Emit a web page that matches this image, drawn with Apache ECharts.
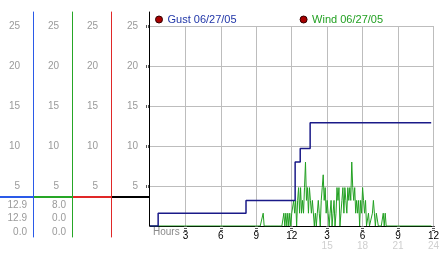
<!DOCTYPE html>
<html>
<head>
<meta charset="utf-8">
<script src="https://cdn.jsdelivr.net/npm/echarts@6/dist/echarts.min.js"></script>
<style>
html,body{margin:0;padding:0;background:#fff;}
#chart{width:442px;height:253px;}
</style>
</head>
<body>
<div id="chart"></div>
<script>
// ---- data ----
const hourTicks = [3, 6, 9, 12, 15, 18, 21, 24];
const speedTicks = [5, 10, 15, 20, 25];
const seriesNames = ['Gust 06/27/05', 'Wind 06/27/05'];

// gust: step line, value changes at given hour
const gustHours = [0, 0.69, 8.13, 12.29, 12.72, 13.56, 23.81];
const gustMph   = [0, 1.6, 3.2, 8.0, 9.7, 12.9, 12.9];

// wind: 5-minute samples starting 09:20
const windStartMinute = 560;
const windStepMinute = 5;
const windMph = [
  0,0,0,1.6,0,0,0,0,0,0,
  0,0,0,0,0,0,0,0,0,0,
  0,0,
  0,0,1.6,0,1.6,0,1.6,0,1.6,0,
  1.6,1.6,3.2,1.6,3.2,0,3.2,4.8,1.6,4.8,
  1.6,3.2,1.6,4.8,8.0,3.2,4.8,1.6,4.8,3.2,
  1.6,3.2,3.2,0,1.6,0,1.6,3.2,1.6,0,
  3.2,4.8,6.4,3.2,4.8,1.6,3.2,1.6,0,1.6,
  3.2,0,1.6,3.2,0,1.6,4.8,3.2,4.8,0,
  1.6,3.2,4.8,1.6,4.8,3.2,1.6,4.8,3.2,4.8,
  3.2,8.0,4.8,3.2,4.8,1.6,3.2,1.6,3.2,0,
  3.2,1.6,4.8,3.2,1.6,3.2,0,0,1.6,0,
  0,0,1.6,3.2,1.6,0,1.6,1.6,0,0,
  0,0,0,1.6,0,1.6,0
];
const windFirstHour = 0;
const windLastHour = 23.81;

// ---- build ----
const gustData = gustHours.map((h, i) => [h, gustMph[i]]);
const windData = [[windFirstHour, 0]].concat(
  windMph.map((v, i) => [(windStartMinute + windStepMinute * i) / 60, v]),
  [[windLastHour, 0]]
);

function stats(arr) {
  return [Math.max(...arr), arr[arr.length - 1], Math.min(...arr)].map(v => v.toFixed(1));
}
const gustStats = stats(gustMph);
const windStats = stats(windMph.concat([0]));

const FONT = 'Liberation Sans';
const BLUE = '#2a5ae8', GREEN = '#26a626', RED = '#e02828';
const GUST_C = '#1a1a88', WIND_C = '#22a022';

const colGrids = [
  {left: 33, color: BLUE},
  {left: 72, color: GREEN},
  {left: 111, color: RED}
];

const grids = [{left: 150, right: 4, top: 26, bottom: 27}];
const xAxes = [{
  gridIndex: 0, type: 'value', min: 0, max: 24, interval: 3,
  axisLine: {show: true, onZero: false, lineStyle: {color: '#000', width: 1}},
  axisTick: {show: true, customValues: hourTicks, length: 6, lineStyle: {color: '#555', width: 3, type: [1, 1]}},
  splitLine: {show: true, lineStyle: {color: '#bdbdbd', width: 1}},
  axisLabel: {
    customValues: hourTicks, margin: 5, fontFamily: FONT,
    formatter: function (v) {
      const h12 = v % 12 === 0 ? 12 : v % 12;
      return v > 12 ? '{a|' + h12 + '}\n{b|' + v + '}' : '{a|' + h12 + '}';
    },
    rich: {
      a: {color: '#000', fontSize: 10, lineHeight: 10, fontFamily: FONT},
      b: {color: '#cfcfcf', fontSize: 10, lineHeight: 10, fontFamily: FONT}
    }
  }
}];
const yAxes = [{
  gridIndex: 0, type: 'value', min: 0, max: 25, interval: 5,
  axisLine: {show: false}, axisTick: {show: false}, axisLabel: {show: false},
  splitLine: {show: true, lineStyle: {color: '#bdbdbd', width: 1}}
}];

colGrids.forEach((c, k) => {
  grids.push({left: c.left, width: 1, top: 12, bottom: 16});
  xAxes.push({gridIndex: k + 1, type: 'value', show: false});
  yAxes.push({
    gridIndex: k + 1, type: 'value', min: -1.375, max: 26.75, position: 'left',
    axisLine: {show: true, lineStyle: {color: c.color, width: 1}},
    axisTick: {show: false}, splitLine: {show: false},
    axisLabel: {customValues: speedTicks, margin: 13, color: '#9a9a9a', fontSize: 10, fontFamily: FONT}
  });
});
// black axis column (main value axis)
grids.push({left: 149, width: 1, top: 12, bottom: 27});
xAxes.push({gridIndex: 4, type: 'value', show: false});
yAxes.push({
  gridIndex: 4, type: 'value', min: 0, max: 26.75, position: 'left',
  axisLine: {show: true, lineStyle: {color: '#000', width: 1}},
  axisTick: {show: true, customValues: speedTicks, length: 3, lineStyle: {color: '#555', width: 3, type: [1, 1]}},
  splitLine: {show: false},
  axisLabel: {customValues: speedTicks, margin: 11, color: '#9a9a9a', fontSize: 10, fontFamily: FONT}
});

const graphic = [];
[[0, 33, BLUE], [33, 72, GREEN], [72, 111, RED], [111, 149, '#000']].forEach(s => {
  graphic.push({type: 'line', shape: {x1: s[0], y1: 197, x2: s[1], y2: 197}, style: {stroke: s[2], lineWidth: 2}});
});
[gustStats, windStats].forEach((st, k) => {
  st.forEach((t, r) => {
    graphic.push({type: 'text', x: k === 0 ? 27 : 66, y: 205 + r * 13.5,
      style: {text: t, fill: '#9a9a9a', font: '10px ' + FONT, textAlign: 'right', textVerticalAlign: 'middle'}});
  });
});
graphic.push({type: 'text', x: 153, y: 232, style: {text: 'Hours', fill: '#8a8a8a', font: '10px ' + FONT, textAlign: 'left', textVerticalAlign: 'middle'}});

const chart = echarts.init(document.getElementById('chart'), null, {renderer: 'canvas'});
chart.setOption({
  animation: false,
  backgroundColor: '#fff',
  textStyle: {fontFamily: FONT},
  legend: {
    left: 155, top: 14, padding: 0, itemGap: 63, itemWidth: 7, itemHeight: 7, icon: 'circle',
    itemStyle: {color: '#a80000', borderColor: '#300', borderWidth: 1},
    textStyle: {fontSize: 11, fontFamily: FONT},
    data: [
      {name: seriesNames[0], textStyle: {color: '#2036a8'}},
      {name: seriesNames[1], textStyle: {color: '#22a022'}}
    ],
    selectedMode: false
  },
  grid: grids,
  xAxis: xAxes,
  yAxis: yAxes,
  graphic: graphic,
  series: [
    {name: seriesNames[1], type: 'line', xAxisIndex: 0, yAxisIndex: 0, data: windData,
      showSymbol: false, symbol: 'none', lineStyle: {color: WIND_C, width: 1}, itemStyle: {color: WIND_C}, z: 3},
    {name: seriesNames[0], type: 'line', xAxisIndex: 0, yAxisIndex: 0, data: gustData, step: 'end',
      showSymbol: false, symbol: 'none', lineStyle: {color: GUST_C, width: 1.5}, itemStyle: {color: GUST_C}, z: 4}
  ]
});
</script>
</body>
</html>
